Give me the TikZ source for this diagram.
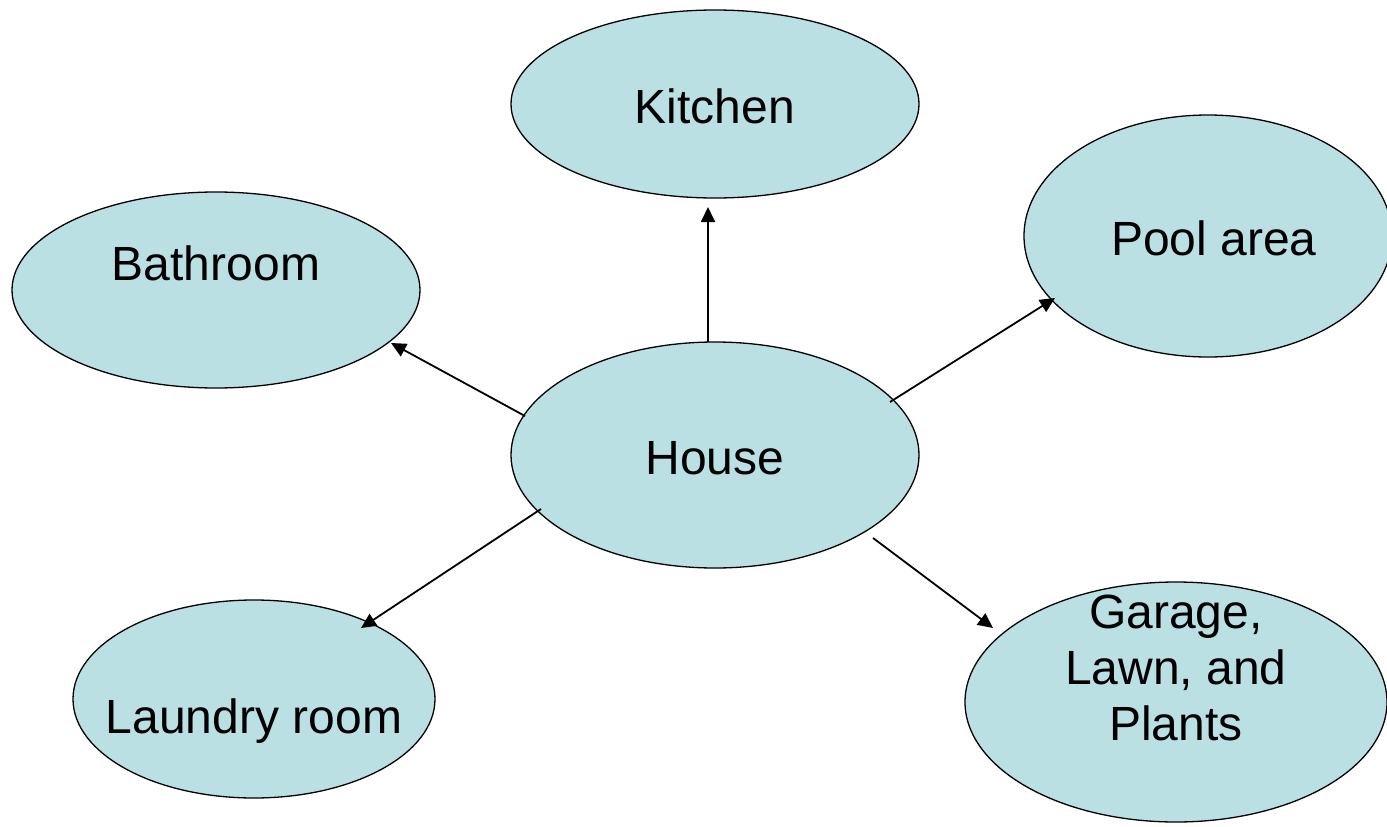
\documentclass[tikz,border=0pt]{standalone}
\usepackage{fontspec}
\setmainfont{Liberation Sans}
\usetikzlibrary{shapes.geometric,arrows.meta}
\definecolor{bubble}{RGB}{187,224,227}
\begin{document}
\begin{tikzpicture}[x=1pt,y=-1pt,
  bub/.style={ellipse,draw=black,line width=1.3pt,fill=bubble,inner sep=0pt},
  lbl/.style={font=\fontsize{48}{56}\selectfont,align=center,inner sep=0pt},
  arr/.style={line width=1.8pt,-{Triangle[length=15pt,width=14pt]}}]
\useasboundingbox (0,0) rectangle (1387,827);
\node[bub,minimum width=408pt,minimum height=188pt] (kitchen) at (715,104) {};
\node[bub,minimum width=408pt,minimum height=196pt] (bathroom) at (216,290) {};
\node[bub,minimum width=368pt,minimum height=242pt] (pool) at (1208,236) {};
\node[bub,minimum width=408pt,minimum height=226pt] (house) at (715,455) {};
\node[bub,minimum width=362pt,minimum height=198pt] (laundry) at (254,699) {};
\node[bub,minimum width=422pt,minimum height=240pt] (garage) at (1176,702) {};
\node[lbl] (tkitchen) at (715,106) {Kitchen};
\node[lbl] (tbathroom) at (216,263) {Bathroom};
\node[lbl] (tpool) at (1214,238) {Pool area};
\node[lbl] (thouse) at (715,458) {House};
\node[lbl] (tlaundry) at (254,721) {Laundry room};
\node[lbl] (tgarage) at (1176,668) {Garage,\\Lawn, and\\Plants};
\coordinate (s1) at (708,342); \coordinate (e1) at (708,207);
\coordinate (s2) at (525,416); \coordinate (e2) at (391,343);
\coordinate (s3) at (890,402); \coordinate (e3) at (1055,298);
\coordinate (s4) at (541,509); \coordinate (e4) at (361,628);
\coordinate (s5) at (873,538); \coordinate (e5) at (993,628);
\draw[arr] (s1) -- (e1);
\draw[arr] (s2) -- (e2);
\draw[arr] (s3) -- (e3);
\draw[arr] (s4) -- (e4);
\draw[arr] (s5) -- (e5);
\end{tikzpicture}
\end{document}
